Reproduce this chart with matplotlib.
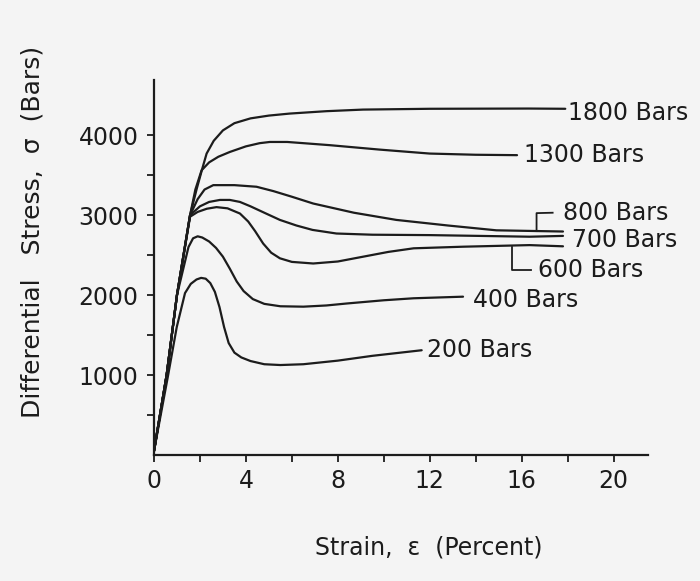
import matplotlib
matplotlib.use("Agg")
import matplotlib.pyplot as plt

# ---- data (strain %, differential stress bars) ----
x_1800 = [0.0, 0.55, 1.0, 1.57, 1.86, 2.1, 2.29, 2.6, 3.0, 3.5, 4.2, 5.0, 5.9, 7.5, 9.1, 12.0, 16.3, 17.9]
y_1800 = [50, 1000, 2000, 3000, 3330, 3580, 3770, 3930, 4060, 4150, 4210, 4245, 4270, 4300, 4320, 4330, 4333, 4330]

x_1300 = [0.0, 0.55, 1.0, 1.57, 1.8, 2.07, 2.4, 2.8, 3.3, 4.0, 4.6, 5.04, 5.8, 6.5, 7.65, 9.8, 12.0, 14.0, 15.8]
y_1300 = [50, 1000, 2000, 3000, 3320, 3560, 3660, 3730, 3790, 3860, 3900, 3915, 3915, 3900, 3875, 3820, 3770, 3755, 3750]

x_800 = [0.0, 0.55, 1.0, 1.57, 1.9, 2.2, 2.58, 3.5, 4.46, 5.2, 6.0, 6.93, 8.7, 10.55, 12.8, 14.9, 17.8]
y_800 = [50, 1000, 2000, 3000, 3200, 3320, 3375, 3375, 3355, 3300, 3230, 3145, 3030, 2940, 2870, 2810, 2795]

x_700 = [0.0, 0.55, 1.0, 1.57, 2.0, 2.4, 2.87, 3.3, 3.74, 4.2, 4.8, 5.48, 6.2, 6.9, 7.94, 9.5, 12.0, 16.35, 17.8]
y_700 = [50, 1000, 2000, 3000, 3110, 3165, 3190, 3190, 3165, 3110, 3030, 2940, 2870, 2815, 2770, 2755, 2750, 2730, 2740]

x_600 = [0.0, 0.55, 1.0, 1.57, 1.9, 2.3, 2.72, 3.2, 3.74, 4.1, 4.4, 4.75, 5.1, 5.48, 6.0, 6.93, 8.0, 9.1, 10.2, 11.3, 13.45, 16.35, 17.8]
y_600 = [50, 1000, 2000, 2980, 3040, 3080, 3100, 3085, 3020, 2920, 2800, 2645, 2530, 2460, 2415, 2395, 2420, 2480, 2540, 2585, 2605, 2625, 2610]

x_400 = [0.0, 0.55, 1.0, 1.5, 1.7, 1.9, 2.1, 2.4, 2.7, 3.0, 3.3, 3.6, 3.9, 4.3, 4.8, 5.5, 6.5, 7.5, 8.4, 10.0, 11.3, 13.45]
y_400 = [50, 1000, 2000, 2600, 2710, 2735, 2720, 2670, 2590, 2480, 2330, 2170, 2050, 1950, 1890, 1860, 1855, 1870, 1895, 1935, 1960, 1980]

x_200 = [0.0, 0.6, 0.99, 1.35, 1.6, 1.85, 2.05, 2.25, 2.45, 2.65, 2.85, 3.05, 3.25, 3.5, 3.8, 4.2, 4.8, 5.5, 6.5, 8.0, 9.5, 11.65]
y_200 = [50, 975, 1600, 2025, 2140, 2195, 2215, 2205, 2150, 2040, 1850, 1600, 1400, 1280, 1220, 1175, 1135, 1125, 1135, 1180, 1240, 1310]

series = [(x_1800, y_1800), (x_1300, y_1300), (x_800, y_800), (x_700, y_700),
          (x_600, y_600), (x_400, y_400), (x_200, y_200)]

labels = ["1800 Bars", "1300 Bars", "800 Bars", "700 Bars", "600 Bars", "400 Bars", "200 Bars"]
label_x = [18.0, 16.1, 17.8, 18.2, 16.7, 13.9, 11.9]
label_y = [4275, 3750, 3025, 2690, 2310, 1940, 1310]

xticks_major = [0, 4, 8, 12, 16, 20]
xticks_minor = [2, 6, 10, 14, 18]
yticks_major = [1000, 2000, 3000, 4000]
yticks_minor = [500, 1500, 2500, 3500]

# ---- figure ----
bg = "#f4f4f4"
ink = "#1c1c1c"
fig = plt.figure(figsize=(7.0, 5.81), dpi=100, facecolor=bg)
ax = fig.add_axes([0.22, 0.2169, 0.7057, 0.6454], facecolor=bg)

for xs, ys in series:
    ax.plot(xs, ys, color=ink, lw=1.6, solid_capstyle="round", solid_joinstyle="round")

for t, lx, ly in zip(labels, label_x, label_y):
    ax.text(lx, ly, t, fontsize=17, color=ink, va="center", ha="left", clip_on=False)

# brackets for 800 and 600
ax.plot([16.65, 16.65, 17.35], [2800, 3025, 3030], color=ink, lw=1.3, clip_on=False)
ax.plot([15.6, 15.6, 16.4], [2600, 2310, 2310], color=ink, lw=1.3, clip_on=False)

ax.set_xlim(0, 21.5)
ax.set_ylim(0, 4690)
for s in ["top", "right"]:
    ax.spines[s].set_visible(False)
for s in ["left", "bottom"]:
    ax.spines[s].set_color(ink)
    ax.spines[s].set_linewidth(1.6)

ax.set_xticks(xticks_major)
ax.set_xticks(xticks_minor, minor=True)
ax.set_yticks(yticks_major)
ax.set_yticks(yticks_minor, minor=True)
ax.set_xticklabels([str(v) for v in xticks_major])
ax.set_yticklabels([str(v) for v in yticks_major])
ax.tick_params(axis="both", which="both", direction="out", length=5, width=1.3,
               color=ink, labelcolor=ink, labelsize=17)
ax.tick_params(axis="x", which="major", pad=5)
ax.tick_params(axis="y", which="major", pad=6)

fig.text(0.612, 0.058, "Strain,  ε  (Percent)", fontsize=17, color=ink, ha="center", va="center")
fig.text(0.047, 0.6, "Differential   Stress,  σ  (Bars)", fontsize=18, color=ink,
         ha="center", va="center", rotation=90)

fig.savefig("out.png", dpi=100, facecolor=bg)
